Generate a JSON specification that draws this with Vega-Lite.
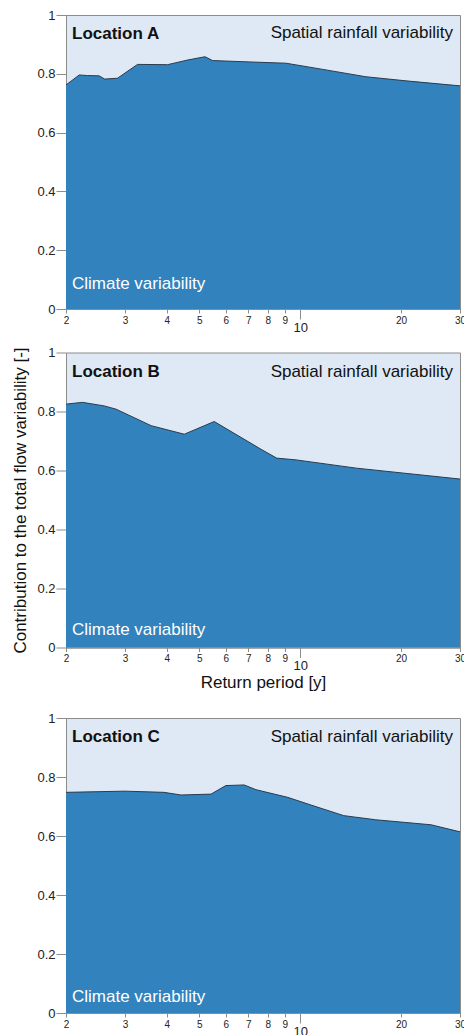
{
  "$schema": "https://vega.github.io/schema/vega-lite/v6.json",
  "padding": {"left": 11, "top": 8, "right": 0, "bottom": 0},
  "background": "white",
  "spacing": 10.5,
  "datasets": {
    "curves": [
      {"loc": "A", "T": 2.0, "v": 0.762},
      {"loc": "A", "T": 2.19, "v": 0.796},
      {"loc": "A", "T": 2.32, "v": 0.794},
      {"loc": "A", "T": 2.51, "v": 0.793},
      {"loc": "A", "T": 2.61, "v": 0.782},
      {"loc": "A", "T": 2.85, "v": 0.785},
      {"loc": "A", "T": 3.27, "v": 0.832},
      {"loc": "A", "T": 4.02, "v": 0.831},
      {"loc": "A", "T": 4.62, "v": 0.847},
      {"loc": "A", "T": 5.2, "v": 0.858},
      {"loc": "A", "T": 5.48, "v": 0.845},
      {"loc": "A", "T": 7.64, "v": 0.839},
      {"loc": "A", "T": 9.07, "v": 0.836},
      {"loc": "A", "T": 11.68, "v": 0.815},
      {"loc": "A", "T": 15.7, "v": 0.79},
      {"loc": "A", "T": 20.7, "v": 0.776},
      {"loc": "A", "T": 30, "v": 0.759},
      {"loc": "B", "T": 2.0, "v": 0.825},
      {"loc": "B", "T": 2.24, "v": 0.831},
      {"loc": "B", "T": 2.6, "v": 0.819},
      {"loc": "B", "T": 2.82, "v": 0.808},
      {"loc": "B", "T": 3.59, "v": 0.752},
      {"loc": "B", "T": 4.51, "v": 0.723},
      {"loc": "B", "T": 5.54, "v": 0.766},
      {"loc": "B", "T": 7.64, "v": 0.672},
      {"loc": "B", "T": 8.51, "v": 0.642},
      {"loc": "B", "T": 9.72, "v": 0.636},
      {"loc": "B", "T": 14.7, "v": 0.608},
      {"loc": "B", "T": 30, "v": 0.571},
      {"loc": "C", "T": 2.0, "v": 0.748},
      {"loc": "C", "T": 3.0, "v": 0.752},
      {"loc": "C", "T": 3.92, "v": 0.748},
      {"loc": "C", "T": 4.41, "v": 0.739},
      {"loc": "C", "T": 5.42, "v": 0.742},
      {"loc": "C", "T": 6.0, "v": 0.771},
      {"loc": "C", "T": 6.81, "v": 0.773},
      {"loc": "C", "T": 7.38, "v": 0.757},
      {"loc": "C", "T": 9.18, "v": 0.731},
      {"loc": "C", "T": 10.77, "v": 0.705},
      {"loc": "C", "T": 13.5, "v": 0.669},
      {"loc": "C", "T": 16.8, "v": 0.655},
      {"loc": "C", "T": 24.6, "v": 0.638},
      {"loc": "C", "T": 30, "v": 0.614}
    ]
  },
  "vconcat": [
    {
      "width": 394, "height": 294,
      "layer": [
        {
          "data": {"name": "curves"},
          "transform": [{"filter": "datum.loc == 'A'"}],
          "mark": {"type": "area", "color": "#3182bd", "opacity": 1, "line": {"color": "#2a3b4e", "strokeWidth": 1}},
          "encoding": {
            "x": {"field": "T", "type": "quantitative", "scale": {"type": "log", "domain": [2, 30], "nice": false},
              "axis": {"title": null, "values": [2,3,4,5,6,7,8,9,10,20,30], "format": "d",
                "labelFontSize": {"condition": {"test": "datum.value == 10", "value": 13}, "value": 10},
                "tickSize": {"condition": {"test": "datum.value == 10", "value": 10}, "value": 4},
                "labelPadding": 2}},
            "y": {"field": "v", "type": "quantitative", "scale": {"domain": [0, 1], "nice": false},
              "axis": {"title": null, "values": [0,0.2,0.4,0.6,0.8,1], "format": "~g", "tickSize": 10, "labelPadding": 1, "labelFontSize": 13}}
          }
        },
        {
          "data": {"values": [{}]},
          "mark": {"type": "text", "text": "Location A", "fontSize": 17, "fontWeight": "bold", "align": "left", "baseline": "middle", "dx": 6, "color": "#111"},
          "encoding": {"x": {"datum": 2, "type": "quantitative"}, "y": {"datum": 0.935, "type": "quantitative"}}
        },
        {
          "data": {"values": [{}]},
          "mark": {"type": "text", "text": "Spatial rainfall variability", "fontSize": 17, "align": "right", "baseline": "middle", "dx": -7, "color": "#111"},
          "encoding": {"x": {"datum": 30, "type": "quantitative"}, "y": {"datum": 0.938, "type": "quantitative"}}
        },
        {
          "data": {"values": [{}]},
          "mark": {"type": "text", "text": "Climate variability", "fontSize": 17, "align": "left", "baseline": "middle", "dx": 6, "color": "white"},
          "encoding": {"x": {"datum": 2, "type": "quantitative"}, "y": {"datum": 0.085, "type": "quantitative"}}
        }
      ]
    },
    {
      "width": 394, "height": 295,
      "layer": [
        {
          "data": {"name": "curves"},
          "transform": [{"filter": "datum.loc == 'B'"}],
          "mark": {"type": "area", "color": "#3182bd", "opacity": 1, "line": {"color": "#2a3b4e", "strokeWidth": 1}},
          "encoding": {
            "x": {"field": "T", "type": "quantitative", "scale": {"type": "log", "domain": [2, 30], "nice": false},
              "axis": {"title": "Return period [y]", "titleFontSize": 17, "titleFontWeight": "normal", "titleColor": "#111", "titlePadding": 2,
                "values": [2,3,4,5,6,7,8,9,10,20,30], "format": "d",
                "labelFontSize": {"condition": {"test": "datum.value == 10", "value": 13}, "value": 10},
                "tickSize": {"condition": {"test": "datum.value == 10", "value": 10}, "value": 4},
                "labelPadding": 2}},
            "y": {"field": "v", "type": "quantitative", "scale": {"domain": [0, 1], "nice": false},
              "axis": {"title": "Contribution to the total flow variability [-]", "titleFontSize": 17, "titleFontWeight": "normal", "titleColor": "#111", "titlePadding": 7,
                "values": [0,0.2,0.4,0.6,0.8,1], "format": "~g", "tickSize": 10, "labelPadding": 1, "labelFontSize": 13}}
          }
        },
        {
          "data": {"values": [{}]},
          "mark": {"type": "text", "text": "Location B", "fontSize": 17, "fontWeight": "bold", "align": "left", "baseline": "middle", "dx": 6, "color": "#111"},
          "encoding": {"x": {"datum": 2, "type": "quantitative"}, "y": {"datum": 0.935, "type": "quantitative"}}
        },
        {
          "data": {"values": [{}]},
          "mark": {"type": "text", "text": "Spatial rainfall variability", "fontSize": 17, "align": "right", "baseline": "middle", "dx": -7, "color": "#111"},
          "encoding": {"x": {"datum": 30, "type": "quantitative"}, "y": {"datum": 0.935, "type": "quantitative"}}
        },
        {
          "data": {"values": [{}]},
          "mark": {"type": "text", "text": "Climate variability", "fontSize": 17, "align": "left", "baseline": "middle", "dx": 6, "color": "white"},
          "encoding": {"x": {"datum": 2, "type": "quantitative"}, "y": {"datum": 0.06, "type": "quantitative"}}
        }
      ]
    },
    {
      "width": 394, "height": 295,
      "title": {"text": " ", "fontSize": 6, "offset": 3},
      "layer": [
        {
          "data": {"name": "curves"},
          "transform": [{"filter": "datum.loc == 'C'"}],
          "mark": {"type": "area", "color": "#3182bd", "opacity": 1, "line": {"color": "#2a3b4e", "strokeWidth": 1}},
          "encoding": {
            "x": {"field": "T", "type": "quantitative", "scale": {"type": "log", "domain": [2, 30], "nice": false},
              "axis": {"title": null, "values": [2,3,4,5,6,7,8,9,10,20,30], "format": "d",
                "labelFontSize": {"condition": {"test": "datum.value == 10", "value": 13}, "value": 10},
                "tickSize": {"condition": {"test": "datum.value == 10", "value": 10}, "value": 4},
                "labelPadding": 2}},
            "y": {"field": "v", "type": "quantitative", "scale": {"domain": [0, 1], "nice": false},
              "axis": {"title": null, "values": [0,0.2,0.4,0.6,0.8,1], "format": "~g", "tickSize": 10, "labelPadding": 1, "labelFontSize": 13}}
          }
        },
        {
          "data": {"values": [{}]},
          "mark": {"type": "text", "text": "Location C", "fontSize": 17, "fontWeight": "bold", "align": "left", "baseline": "middle", "dx": 6, "color": "#111"},
          "encoding": {"x": {"datum": 2, "type": "quantitative"}, "y": {"datum": 0.935, "type": "quantitative"}}
        },
        {
          "data": {"values": [{}]},
          "mark": {"type": "text", "text": "Spatial rainfall variability", "fontSize": 17, "align": "right", "baseline": "middle", "dx": -7, "color": "#111"},
          "encoding": {"x": {"datum": 30, "type": "quantitative"}, "y": {"datum": 0.935, "type": "quantitative"}}
        },
        {
          "data": {"values": [{}]},
          "mark": {"type": "text", "text": "Climate variability", "fontSize": 17, "align": "left", "baseline": "middle", "dx": 6, "color": "white"},
          "encoding": {"x": {"datum": 2, "type": "quantitative"}, "y": {"datum": 0.054, "type": "quantitative"}}
        }
      ]
    }
  ],
  "config": {
    "font": "Liberation Sans",
    "view": {"fill": "#dee9f5", "stroke": "#8c8c8c", "strokeWidth": 1},
    "axis": {"grid": false, "domainColor": "#8c8c8c", "tickColor": "#8c8c8c", "labelColor": "#222", "labelFont": "Liberation Sans", "titleFont": "Liberation Sans", "labelFlush": false, "labelOverlap": false, "labelBound": false}
  }
}
